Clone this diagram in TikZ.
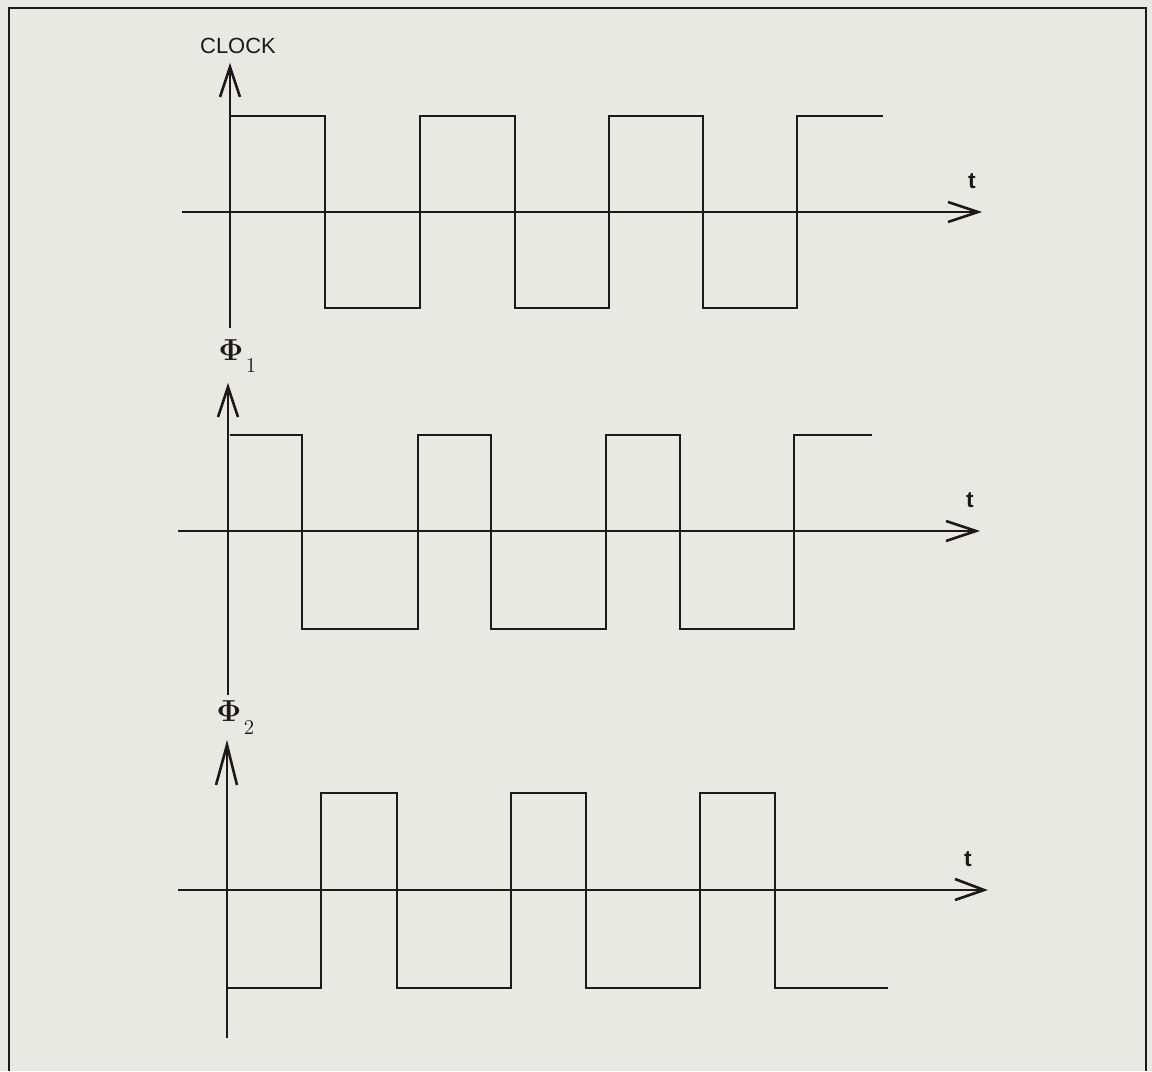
\documentclass[tikz,border=0pt]{standalone}
\usepackage{fontspec}
\setsansfont{Liberation Sans}
\definecolor{paper}{RGB}{233,233,225}
\definecolor{ink}{RGB}{30,25,25}
\begin{document}
\begin{tikzpicture}[x=0.02cm,y=-0.02cm,
  wave/.style={draw=ink,line width=1.3pt,line join=miter},
  axis/.style={draw=ink,line width=1.3pt},
  tip/.style={draw=ink,line width=1.5pt,line join=miter},
  frame/.style={draw=ink,line width=1.1pt},
  lab/.style={text=ink,inner sep=0pt,font=\sffamily\fontsize{12.5}{14}\selectfont},
  tlab/.style={text=ink,inner sep=0pt,font=\sffamily\bfseries\fontsize{13}{15}\selectfont},
  phi/.style={text=ink,inner sep=0pt,font=\boldmath\fontsize{18}{21}\selectfont},
  sub/.style={text=ink,inner sep=0pt,font=\fontsize{12}{14}\selectfont}]
\fill[paper] (0,0) rectangle (1152,1071);
\useasboundingbox (0,0) rectangle (1152,1071);
% frame
\draw[frame] (9,1071) -- (9,8) -- (1146,8) -- (1146,1071);

% ---------- CLOCK ----------
\coordinate (c0) at (230,67);
\coordinate (c1) at (230,328);
\coordinate (h0) at (182,212);
\coordinate (h1) at (978,212);
\draw[axis] (c0) -- (c1);
\draw[axis] (h0) -- (h1);
\draw[tip] (220,97) -- (c0) -- (240,97);
\draw[tip] (948,202) -- (h1) -- (948,222);
\node[lab] (clk) at (238,46) {CLOCK};
\node[tlab] (t1) at (972,181) {t};
\draw[wave] (230,116) -- (325,116) -- (325,308) -- (420,308) -- (420,116)
  -- (515,116) -- (515,308) -- (609,308) -- (609,116) -- (703,116)
  -- (703,308) -- (797,308) -- (797,116) -- (883,116);

% ---------- PHI 1 ----------
\coordinate (p0) at (228,387);
\coordinate (p1) at (228,695);
\coordinate (q0) at (178,531);
\coordinate (q1) at (976,531);
\draw[axis] (p0) -- (p1);
\draw[axis] (q0) -- (q1);
\draw[tip] (218,417) -- (p0) -- (238,417);
\draw[tip] (946,521) -- (q1) -- (946,541);
\node[phi] (phi1) at (231,350) {$\Phi$};
\node[sub] (s1) at (251,365) {1};
\node[tlab] (t2) at (970,500) {t};
\draw[wave] (230,435) -- (302,435) -- (302,629) -- (418,629) -- (418,435)
  -- (491,435) -- (491,629) -- (606,629) -- (606,435) -- (680,435)
  -- (680,629) -- (794,629) -- (794,435) -- (872,435);

% ---------- PHI 2 ----------
\coordinate (r0) at (227,745);
\coordinate (r1) at (227,1038);
\coordinate (u0) at (178,890);
\coordinate (u1) at (984,890);
\draw[axis] (r0) -- (r1);
\draw[axis] (u0) -- (u1);
\draw[tip] (216,785) -- (r0) -- (237,785);
\draw[tip] (955,879) -- (u1) -- (955,900);
\node[phi] (phi2) at (229,711) {$\Phi$};
\node[sub] (s2) at (249,727) {2};
\node[tlab] (t3) at (968,859) {t};
\draw[wave] (228,988) -- (321,988) -- (321,793) -- (397,793) -- (397,988)
  -- (511,988) -- (511,793) -- (586,793) -- (586,988) -- (700,988)
  -- (700,793) -- (775,793) -- (775,988) -- (888,988);
\end{tikzpicture}
\end{document}
